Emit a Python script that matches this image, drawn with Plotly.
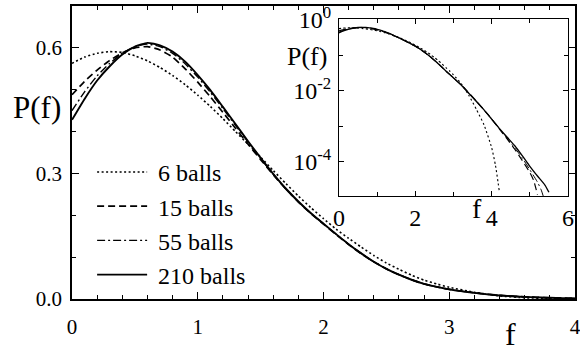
import plotly.graph_objects as go

# ---- data ----
f_6 = [0, 0.1, 0.2, 0.3, 0.4, 0.5, 0.6, 0.7, 0.8, 0.9, 1.0, 1.1, 1.2, 1.3, 1.4, 1.5, 1.6, 1.7, 1.8, 1.9,
       2.0, 2.1, 2.2, 2.3, 2.4, 2.5, 2.6, 2.7, 2.8, 2.9, 3.0, 3.2, 3.4, 3.6, 3.8, 4.0, 4.1, 4.2]
p_6 = [0.563, 0.578, 0.587, 0.591, 0.589, 0.581, 0.569, 0.553, 0.534, 0.512, 0.487, 0.460, 0.431, 0.400,
       0.370, 0.339, 0.307, 0.276, 0.246, 0.218, 0.192, 0.167, 0.145, 0.124, 0.104, 0.086, 0.071, 0.057,
       0.045, 0.036, 0.028, 0.0160, 0.0075, 0.0030, 0.0011, 0.00025, 0.00008, 0.000015]

f_15 = [0, 0.1, 0.2, 0.3, 0.4, 0.5, 0.6, 0.7, 0.8, 0.9, 1.0, 1.1, 1.2, 1.3, 1.4, 1.5, 1.6, 1.7, 1.8, 1.9,
        2.0, 2.1, 2.2, 2.3, 2.4, 2.5, 2.6, 2.7, 2.8, 2.9, 3.0, 3.2, 3.4, 3.6, 3.8, 4.0, 4.2, 4.4, 4.6,
        4.8, 5.0, 5.1, 5.2]
p_15 = [0.488, 0.520, 0.547, 0.570, 0.588, 0.600, 0.603, 0.595, 0.578, 0.550, 0.518, 0.483, 0.446, 0.408,
        0.370, 0.333, 0.297, 0.263, 0.232, 0.204, 0.179, 0.154, 0.130, 0.108, 0.089, 0.072, 0.058, 0.046,
        0.036, 0.029, 0.023, 0.0148, 0.0088, 0.0051, 0.0029, 0.0016, 0.00085, 0.00045, 0.00023, 0.00011,
        0.00005, 0.00003, 0.000012]

f_55 = [0, 0.1, 0.2, 0.3, 0.4, 0.5, 0.6, 0.7, 0.8, 0.9, 1.0, 1.1, 1.2, 1.3, 1.4, 1.5, 1.6, 1.7, 1.8, 1.9,
        2.0, 2.1, 2.2, 2.3, 2.4, 2.5, 2.6, 2.7, 2.8, 2.9, 3.0, 3.2, 3.4, 3.6, 3.8, 4.0, 4.2, 4.4, 4.6,
        4.8, 5.0, 5.2, 5.3, 5.35]
p_55 = [0.450, 0.495, 0.533, 0.563, 0.587, 0.603, 0.609, 0.603, 0.587, 0.562, 0.530, 0.494, 0.455, 0.415,
        0.375, 0.336, 0.298, 0.263, 0.232, 0.205, 0.180, 0.155, 0.131, 0.109, 0.089, 0.072, 0.058, 0.046,
        0.036, 0.029, 0.023, 0.0147, 0.0087, 0.0051, 0.0029, 0.0016, 0.00087, 0.00047, 0.00025, 0.00013,
        0.00006, 0.000027, 0.000016, 0.000011]

f_210 = [0, 0.1, 0.2, 0.3, 0.4, 0.5, 0.6, 0.7, 0.8, 0.9, 1.0, 1.1, 1.2, 1.3, 1.4, 1.5, 1.6, 1.7, 1.8, 1.9,
         2.0, 2.1, 2.2, 2.3, 2.4, 2.5, 2.6, 2.7, 2.8, 2.9, 3.0, 3.2, 3.4, 3.6, 3.8, 4.0, 4.2, 4.4, 4.6,
         4.8, 5.0, 5.2, 5.4, 5.5]
p_210 = [0.428, 0.478, 0.522, 0.556, 0.584, 0.603, 0.612, 0.606, 0.591, 0.567, 0.535, 0.499, 0.459, 0.418,
         0.377, 0.337, 0.299, 0.264, 0.233, 0.205, 0.180, 0.155, 0.131, 0.109, 0.089, 0.072, 0.058, 0.046,
         0.036, 0.029, 0.023, 0.0145, 0.0085, 0.0050, 0.0029, 0.0016, 0.00088, 0.00050, 0.00029, 0.00015,
         0.000075, 0.000040, 0.000022, 0.000014]

series_names = ["6 balls", "15 balls", "55 balls", "210 balls"]
main_xticks = [0, 1, 2, 3, 4]
main_yticks = [0.0, 0.3, 0.6]
inset_xticks = [0, 2, 4, 6]
inset_yticks = [1, 1e-2, 1e-4]
inset_yticklabels = ["10<sup>0</sup>", "10<sup>-2</sup>", "10<sup>-4</sup>"]

FONT = "Liberation Serif"
dashes = ["2px,2.5px", "7px,4px", "8px,3px,2px,3px", "solid"]
widths = [1.6, 1.7, 1.4, 1.9]
data = [(f_6, p_6), (f_15, p_15), (f_55, p_55), (f_210, p_210)]

fig = go.Figure()
for (fx, py), name, d, w in zip(data, series_names, dashes, widths):
    fig.add_trace(go.Scatter(x=fx, y=py, mode="lines", name="\u00a0" + name,
                             line=dict(color="black", width=w, dash=d, shape="spline", smoothing=0.5),
                             xaxis="x", yaxis="y", showlegend=True))
for (fx, py), name, d, w in zip(data, series_names, dashes, widths):
    fig.add_trace(go.Scatter(x=fx, y=py, mode="lines", name=name,
                             line=dict(color="black", width=w * 0.7, dash=d, shape="spline", smoothing=0.5),
                             xaxis="x2", yaxis="y2", showlegend=False))

axis_common = dict(showline=True, linecolor="black", mirror="allticks", ticks="inside",
                   tickcolor="black", showgrid=False, zeroline=False, automargin=False,
                   ticklabeloverflow="allow")

fig.update_layout(
    width=580, height=349,
    margin=dict(l=72, r=5, t=6, b=50, autoexpand=False),
    paper_bgcolor="white", plot_bgcolor="white",
    font=dict(family=FONT, color="black", size=20),
    xaxis=dict(domain=[0, 1], range=[0, 4], tickvals=main_xticks, ticklen=7, tickwidth=1.2,
               linewidth=1.8, tickfont=dict(size=21, family=FONT, color="black"), ticklabelstandoff=8,
               minor=dict(dtick=0.2, ticklen=4, ticks="inside", tickcolor="black"),
               **axis_common),
    yaxis=dict(domain=[0, 1], range=[0, 0.70], tickvals=main_yticks, tickformat=".1f", ticklen=7,
               tickwidth=1.2, linewidth=1.5, tickfont=dict(size=21, family=FONT, color="black"),
               ticklabelstandoff=4,
               minor=dict(dtick=0.1, ticklen=4, ticks="inside", tickcolor="black"),
               **axis_common),
    xaxis2=dict(domain=[0.5308, 0.9861], anchor="y2", range=[0, 6], tickvals=inset_xticks, ticklen=5,
                linewidth=1, tickfont=dict(size=24, family=FONT, color="black"), ticklabelstandoff=0,
                minor=dict(dtick=1, ticklen=4, ticks="inside", tickcolor="black"),
                **axis_common),
    yaxis2=dict(domain=[0.3515, 0.9556], anchor="x2", type="log", range=[-4.96, 0.02],
                tickvals=inset_yticks, ticktext=inset_yticklabels, ticklen=5, linewidth=1,
                tickfont=dict(size=24, family=FONT, color="black"), ticklabelstandoff=2,
                minor=dict(tickvals=[1e-1, 1e-3, 1e-5], ticklen=4, ticks="inside", tickcolor="black"),
                **axis_common),
    legend=dict(x=0.04, y=0.258, xanchor="left", yanchor="middle", bgcolor="rgba(0,0,0,0)",
                font=dict(size=24, family=FONT, color="black"), itemwidth=50, tracegroupgap=0),
    showlegend=True,
)

fig.add_annotation(text="P(f)", xref="paper", yref="paper", x=-0.0696, y=0.655,
                   xanchor="center", yanchor="middle", showarrow=False,
                   font=dict(size=31, family=FONT, color="black"))
fig.add_annotation(text="f", xref="paper", yref="paper", x=0.871, y=-0.12,
                   xanchor="center", yanchor="middle", showarrow=False,
                   font=dict(size=32, family=FONT, color="black"))
fig.add_annotation(text="P(f)", xref="paper", yref="paper", x=0.467, y=0.826,
                   xanchor="center", yanchor="middle", showarrow=False,
                   font=dict(size=26, family=FONT, color="black"))
fig.add_annotation(text="f", xref="paper", yref="paper", x=0.805, y=0.308,
                   xanchor="center", yanchor="middle", showarrow=False,
                   font=dict(size=28, family=FONT, color="black"))

fig.write_html("out.html", config={"displayModeBar": False},
               post_script="document.body.style.margin='0';")
